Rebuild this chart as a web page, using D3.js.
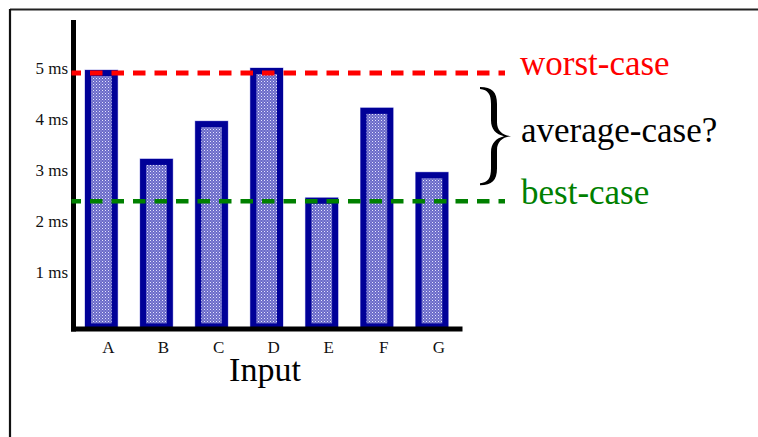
<!DOCTYPE html>
<html>
<head>
<meta charset="utf-8">
<script src="https://cdn.jsdelivr.net/npm/d3@7"></script>
<style>
html,body{margin:0;padding:0;background:#fff;}
svg{display:block;}
</style>
</head>
<body>
<svg id="chart" width="758" height="437"></svg>
<script>
const categories = ["A","B","C","D","E","F","G"];
const times = [4.96, 3.22, 3.96, 5.0, 2.46, 4.22, 2.96];
const tickValues = [1,2,3,4,5];
const tickLabels = ["1 ms","2 ms","3 ms","4 ms","5 ms"];
const worstCase = 4.9;
const bestCase = 2.39;
const caseLabels = ["worst-case","average-case?","best-case"];
const xTitle = "Input";

const svg = d3.select("#chart");
const serif = "'Liberation Serif','Times New Roman',Times,serif";

// frame
svg.append("line").attr("x1",10).attr("y1",9.5).attr("x2",758).attr("y2",9.5)
  .attr("stroke","#222").attr("stroke-width",2);
svg.append("line").attr("x1",10).attr("y1",9).attr("x2",10).attr("y2",437)
  .attr("stroke","#111").attr("stroke-width",2.2);

// pattern
const defs = svg.append("defs");
const pat = defs.append("pattern").attr("id","dots").attr("patternUnits","userSpaceOnUse")
  .attr("width",3).attr("height",3);
pat.append("rect").attr("width",3).attr("height",3).attr("fill","#6a6ac8");
pat.append("rect").attr("x",0).attr("y",0).attr("width",1).attr("height",1).attr("fill","#e4e4ff");
pat.append("rect").attr("x",1.5).attr("y",1.5).attr("width",1).attr("height",1).attr("fill","#b4b4ec");

const y = d3.scaleLinear().domain([0,5]).range([323.4, 68]);
const x = d3.scaleBand().domain(categories).range([85, 448.3]).paddingInner(0.4065).paddingOuter(0);

// bars
const bw = x.bandwidth();
const bars = svg.append("g");
bars.selectAll("rect.outer").data(categories).join("rect")
  .attr("x", d => x(d) - 0.5)
  .attr("y", (d,i) => y(times[i]) - 0.5)
  .attr("width", bw + 1)
  .attr("height", (d,i) => y(0) + 6 - y(times[i]) + 1)
  .attr("fill","#a8a8e8");
bars.selectAll("rect.bar").data(categories).join("rect")
  .attr("x", d => x(d) + 3)
  .attr("y", (d,i) => y(times[i]) + 3)
  .attr("width", bw - 6)
  .attr("height", (d,i) => y(0) - y(times[i]))
  .attr("fill","url(#dots)")
  .attr("stroke","#000098")
  .attr("stroke-width",6);

// axes
svg.append("line").attr("x1",73.5).attr("y1",20).attr("x2",73.5).attr("y2",331.5)
  .attr("stroke","#000").attr("stroke-width",5);
svg.append("line").attr("x1",71).attr("y1",329).attr("x2",462.5).attr("y2",329)
  .attr("stroke","#000").attr("stroke-width",5);

// y tick labels
svg.append("g").selectAll("text").data(tickValues).join("text")
  .attr("x",68).attr("y", d => y(d) + 6)
  .attr("text-anchor","end")
  .attr("font-family",serif).attr("font-size",17).attr("fill","#111")
  .text((d,i) => tickLabels[i]);

// x labels
svg.append("g").selectAll("text").data(categories).join("text")
  .attr("x", d => x(d) + bw/2 + 7).attr("y",353)
  .attr("text-anchor","middle")
  .attr("font-family",serif).attr("font-size",17).attr("fill","#111")
  .text(d => d);

svg.append("text").attr("x",265).attr("y",381).attr("text-anchor","middle")
  .attr("font-family",serif).attr("font-size",34).attr("fill","#000").text(xTitle);

// reference lines
svg.append("line").attr("x1",71.5).attr("x2",505).attr("y1",y(worstCase)).attr("y2",y(worstCase))
  .attr("stroke","#ff0000").attr("stroke-width",5).attr("stroke-dasharray","12.5 9").attr("stroke-dashoffset",3);
svg.append("line").attr("x1",71.5).attr("x2",505).attr("y1",y(bestCase)).attr("y2",y(bestCase))
  .attr("stroke","#008000").attr("stroke-width",4.5).attr("stroke-dasharray","12.5 9").attr("stroke-dashoffset",3);

// labels
svg.append("text").attr("x",520).attr("y",75).attr("font-family",serif).attr("font-size",35)
  .attr("fill","#ff0000").text(caseLabels[0]);
svg.append("text").attr("x",521).attr("y",142).attr("font-family",serif).attr("font-size",35)
  .attr("fill","#000").text(caseLabels[1]);
svg.append("text").attr("x",521).attr("y",204).attr("font-family",serif).attr("font-size",35)
  .attr("fill","#008000").text(caseLabels[2]);

// brace spanning worst to best
const yt = y(worstCase) + 14, yb = y(bestCase) - 16, ym = (yt + yb) / 2;
const xl = 480, xs = 494, xt = 511;
const bp = `M${xl},${yt}
 C${xl+12},${yt} ${xs+3},${yt+5} ${xs+3},${yt+17}
 L${xs+3},${ym-14}
 C${xs+3},${ym-6} ${xs+8},${ym-1} ${xt},${ym}
 C${xs+8},${ym+1} ${xs+3},${ym+6} ${xs+3},${ym+14}
 L${xs+3},${yb-17}
 C${xs+3},${yb-5} ${xl+12},${yb} ${xl},${yb}
 L${xl},${yb-2}
 C${xl+8},${yb-3} ${xs-3},${yb-7} ${xs-3},${yb-17}
 L${xs-3},${ym+16}
 C${xs-3},${ym+7} ${xs+2},${ym+2} ${xt-7},${ym}
 C${xs+2},${ym-2} ${xs-3},${ym-7} ${xs-3},${ym-16}
 L${xs-3},${yt+17}
 C${xs-3},${yt+7} ${xl+8},${yt+3} ${xl},${yt+2} Z`;
svg.append("path").attr("d",bp).attr("fill","#000");
</script>
</body>
</html>
